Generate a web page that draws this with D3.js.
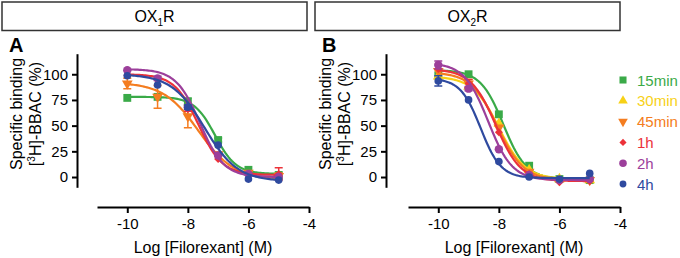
<!DOCTYPE html>
<html>
<head>
<meta charset="utf-8">
<script src="https://cdn.jsdelivr.net/npm/d3@7"></script>
<style>
  body { margin: 0; background: #fff; }
  text { font-family: "Liberation Sans", Arial, sans-serif; }
</style>
</head>
<body>
<div id="chart"></div>
<script>
// log concentrations of filorexant
const logConc = [-10, -9, -8, -7, -6, -5]
const xTicks = [-10, -8, -6, -4]
const yTicks = [0, 25, 50, 75, 100]

const seriesNames = ["15min", "30min", "45min", "1h", "2h", "4h"]
const seriesColors = ["#3aaa48", "#f7d117", "#f47d20", "#ec3239", "#9c3f9b", "#2f4a9f"]

// OX1R binding (%)
const ox1_15min = [77, 78, 73, 36, 7, 2]
const ox1_45min = [91, 78, 59, 22, 4, 1]
const ox1_1h = [99, 95, 66, 17.5, 3, 3]
const ox1_2h = [104, 96, 68, 21, 3, 0]
const ox1_4h = [98.5, 89.5, 68, 31, -2, -3]
const ox1_err_15min = [0, 0, 4, 2, 1, 0]
const ox1_err_45min = [5, 11, 11, 2, 2, 3]
const ox1_err_1h = [1, 1, 2, 1, 1, 6]
const ox1_err_2h = [1, 2, 1, 1, 1, 1]
const ox1_err_4h = [1, 1, 2, 1, 1, 1]
// fit parameters: top, bottom, logIC50, hill
const ox1_fit_15min = [78, 3, -7.1, 1.25]
const ox1_fit_45min = [92, -2, -7.65, 0.75]
const ox1_fit_1h = [100, 2, -7.65, 1.1]
const ox1_fit_2h = [105, 0, -7.6, 1.1]
const ox1_fit_4h = [100, -4, -7.45, 0.8]

// OX2R binding (%)
const ox2_15min = [99, 100, 61, 11, -2, -3]
const ox2_30min = [98, 88, 52, 7, -2, -3]
const ox2_45min = [103, 91, 48, 5, -3, -3]
const ox2_1h = [105, 91, 43.5, 3, -5, -4]
const ox2_2h = [109, 86, 27, 2, -3, -2]
const ox2_4h = [93.5, 75, 15, 0, -2, 3.5]
const ox2_err_15min = [1, 1, 1, 1, 1, 1]
const ox2_err_30min = [1, 1, 1, 1, 1, 1]
const ox2_err_45min = [1, 4, 1, 1, 1, 1]
const ox2_err_1h = [1, 4, 1, 1, 1, 1]
const ox2_err_2h = [4, 2, 1, 1, 1, 1]
const ox2_err_4h = [5, 1, 1, 1, 1, 1]
const ox2_fit_15min = [104, -2, -7.85, 1.15]
const ox2_fit_30min = [98, -2, -8.0, 1.0]
const ox2_fit_45min = [102, -3, -8.05, 1.0]
const ox2_fit_1h = [105, -4, -8.1, 1.05]
const ox2_fit_2h = [111, -3, -8.35, 1.1]
const ox2_fit_4h = [96, -1, -8.6, 1.3]

const W = 680, H = 258
const svg = d3.select("#chart").append("svg")
    .attr("width", W)
    .attr("height", H)

// 45min = upside-down triangle, 1h = square turned 45deg
const seriesShapes = [d3.symbolSquare, d3.symbolTriangle, d3.symbolTriangle, d3.symbolSquare, d3.symbolCircle, d3.symbolCircle]
const shapeRotate = [0, 0, 180, 45, 0, 0]
const shapeSizes = [62, 50, 50, 32, 56, 46]

function sigmoid(p, x) {
    return p[1] + (p[0] - p[1]) / (1 + Math.pow(10, (x - p[2]) * p[3]))
}

function drawPanel(opt) {
    const g = svg.append("g")
    const x = d3.scaleLinear().domain([-11, -4]).range([opt.x0, opt.x0 + 212])
    const y = d3.scaleLinear().domain([-10, 120]).range([187.3, 53.7])

    // header box
    g.append("rect")
        .attr("x", opt.boxX).attr("y", 2)
        .attr("width", 305).attr("height", 28.5)
        .attr("fill", "none").attr("stroke", "#333").attr("stroke-width", 1.5)
    const title = g.append("text")
        .attr("x", opt.boxX + 152.5).attr("y", 22)
        .attr("text-anchor", "middle")
        .style("font-size", "16px")
    title.append("tspan").text("OX")
    title.append("tspan").text(opt.sub).style("font-size", "10px").attr("dy", 4)
    title.append("tspan").text("R").attr("dy", -4)

    g.append("text")
        .attr("x", opt.boxX + 7).attr("y", 52)
        .style("font-size", "20px").style("font-weight", "bold")
        .text(opt.letter)

    // axes
    const yAxis = g.append("g")
        .attr("transform", `translate(${opt.yAxisX},0)`)
        .call(d3.axisLeft(y).tickValues(yTicks).tickSize(5).tickSizeOuter(0).tickPadding(4))
    const xAxis = g.append("g")
        .attr("transform", "translate(0,207)")
        .call(d3.axisBottom(x).tickValues(xTicks).tickFormat(d => String(d)).tickSize(6).tickSizeOuter(0).tickPadding(5))
    ;[xAxis, yAxis].forEach(a => {
        a.selectAll("path, line").attr("stroke", "#000").attr("stroke-width", 2)
        a.selectAll("text").style("font-size", "15px").attr("fill", "#000")
            .style("font-family", '"Liberation Sans", Arial, sans-serif')
    })

    // axis titles
    const cy = 114
    g.append("text")
        .attr("transform", `translate(${opt.yAxisX - 55},${cy}) rotate(-90)`)
        .attr("text-anchor", "middle")
        .style("font-size", "16px")
        .text("Specific binding")
    const yl = g.append("text")
        .attr("transform", `translate(${opt.yAxisX - 36},${cy}) rotate(-90)`)
        .attr("text-anchor", "middle")
        .style("font-size", "16px")
    yl.append("tspan").text("[")
    yl.append("tspan").text("3").style("font-size", "10px").attr("dy", -6)
    yl.append("tspan").text("H]-BBAC (%)").attr("dy", 6)

    g.append("text")
        .attr("x", x(-7.5)).attr("y", 253)
        .attr("text-anchor", "middle")
        .style("font-size", "16px")
        .text("Log [Filorexant] (M)")

    const line = d3.line().x(d => x(d[0])).y(d => y(d[1]))
    const xs = d3.range(-10, -4.999, 0.05)

    opt.series.forEach(s => {
        const col = seriesColors[s.idx]
        g.append("path")
            .attr("d", line(xs.map(v => [v, sigmoid(s.fit, v)])))
            .attr("fill", "none").attr("stroke", col).attr("stroke-width", 2.2)
        logConc.forEach((c, i) => {
            const e = s.err[i]
            if (e > 1.5) {
                const cx = x(c)
                g.append("path")
                    .attr("d", `M${cx},${y(s.values[i] - e)}V${y(s.values[i] + e)}M${cx - 4},${y(s.values[i] - e)}H${cx + 4}M${cx - 4},${y(s.values[i] + e)}H${cx + 4}`)
                    .attr("stroke", col).attr("stroke-width", 1.5).attr("fill", "none")
            }
        })
        g.selectAll(null).data(s.values).enter().append("path")
            .attr("transform", (d, i) => `translate(${x(logConc[i])},${y(d)}) rotate(${shapeRotate[s.idx]})`)
            .attr("d", d3.symbol().type(seriesShapes[s.idx]).size(shapeSizes[s.idx]))
            .attr("fill", col)
    })
}

drawPanel({
    x0: 97, yAxisX: 77, boxX: 2, sub: "1", letter: "A",
    series: [
        { idx: 0, values: ox1_15min, err: ox1_err_15min, fit: ox1_fit_15min },
        { idx: 2, values: ox1_45min, err: ox1_err_45min, fit: ox1_fit_45min },
        { idx: 3, values: ox1_1h, err: ox1_err_1h, fit: ox1_fit_1h },
        { idx: 4, values: ox1_2h, err: ox1_err_2h, fit: ox1_fit_2h },
        { idx: 5, values: ox1_4h, err: ox1_err_4h, fit: ox1_fit_4h }
    ]
})

drawPanel({
    x0: 408, yAxisX: 386, boxX: 315, sub: "2", letter: "B",
    series: [
        { idx: 0, values: ox2_15min, err: ox2_err_15min, fit: ox2_fit_15min },
        { idx: 1, values: ox2_30min, err: ox2_err_30min, fit: ox2_fit_30min },
        { idx: 2, values: ox2_45min, err: ox2_err_45min, fit: ox2_fit_45min },
        { idx: 3, values: ox2_1h, err: ox2_err_1h, fit: ox2_fit_1h },
        { idx: 4, values: ox2_2h, err: ox2_err_2h, fit: ox2_fit_2h },
        { idx: 5, values: ox2_4h, err: ox2_err_4h, fit: ox2_fit_4h }
    ]
})

// legend
const legend = svg.append("g").attr("transform", "translate(623,80)")
seriesNames.forEach((name, i) => {
    const row = legend.append("g").attr("transform", `translate(0,${i * 20.8})`)
    row.append("path")
        .attr("transform", `rotate(${shapeRotate[i]})`)
        .attr("d", d3.symbol().type(seriesShapes[i]).size(shapeSizes[i] * 0.8))
        .attr("fill", seriesColors[i])
    row.append("text")
        .attr("x", 14).attr("y", 5.5)
        .style("font-size", "15px")
        .attr("fill", seriesColors[i])
        .text(name)
})
</script>
</body>
</html>
